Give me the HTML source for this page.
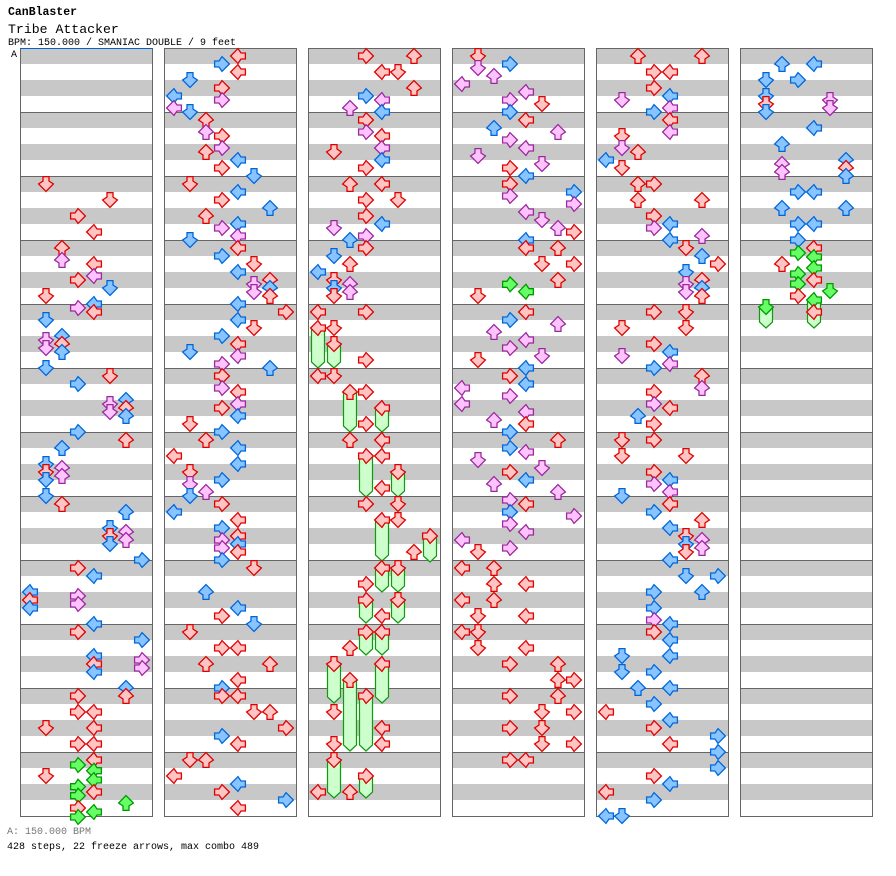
<!DOCTYPE html>
<html><head><meta charset="utf-8"><style>
html,body{margin:0;padding:0;background:#fff;}
svg{display:block;}
text{font-family:"Liberation Mono","DejaVu Sans Mono",monospace;}
</style></head><body>
<svg id="s" width="896" height="876" viewBox="0 0 896 876" xmlns="http://www.w3.org/2000/svg">
<text x="8" y="15" font-size="11.5" font-weight="bold" fill="#000">CanBlaster</text>
<text x="8" y="33" font-size="13.2" fill="#000">Tribe Attacker</text>
<text x="8" y="45" font-size="10" fill="#000">BPM: 150.000 / SMANIAC DOUBLE / 9 feet</text>
<text x="11" y="57" font-size="10" fill="#000">A</text>
<text x="7" y="834" font-size="10" fill="#777">A: 150.000 BPM</text>
<text x="7" y="849" font-size="10" fill="#000">428 steps, 22 freeze arrows, max combo 489</text>
<g id="g"></g>
</svg>
<script>
var cols=[20,164,308,452,596,740];
var data=[
"1:184 5:200 3:216 4:232 2:248 2:260 4:264 3:280 4:276 5:288 1:296 4:304 3:308 4:312 1:320 2:336 1:340 2:344 1:348 2:352 1:368 5:376 3:384 5:404 6:400 6:408 5:412 6:416 3:432 6:440 2:448 1:464 1:472 2:468 2:476 1:480 1:496 2:504 6:512 5:528 5:536 6:532 6:540 5:544 7:560 3:568 4:576 0:592 0:600 0:608 3:596 3:604 4:624 3:632 7:640 4:656 4:664 4:672 7:660 7:668 6:688 6:696 3:696 3:712 4:712 1:728 4:728 3:744 4:744 4:760 3:765g 1:776 4:770.7g 4:780g 3:786.7g 3:795.7g 4:792 6:803g 3:808 4:812g 3:817g",
"4:56 3:64 4:72 1:80 3:88 0:96 3:100 0:108 1:112 2:120 2:132 3:136 3:148 2:152 4:160 3:168 5:176 1:184 4:192 3:200 6:208 2:216 3:228 4:224 4:236 1:240 4:248 3:256 5:264 4:272 5:284 6:280 6:288 5:292 6:296 4:304 7:312 4:320 5:328 3:336 4:344 1:352 4:356 3:364 6:368 3:376 3:388 4:392 4:404 3:408 4:416 1:424 3:432 2:440 4:448 0:456 4:464 1:472 1:484 3:480 2:492 1:496 3:504 0:512 4:520 3:528 4:536 3:540 4:544 3:548 4:552 3:560 5:568 2:592 4:608 3:616 5:624 1:632 3:648 4:648 2:664 6:664 4:680 3:688 3:696 4:696 5:712 6:712 7:728 3:736 4:744 1:760 2:760 0:776 4:784 3:792 7:800 4:808",
"3:56 6:56 4:72 5:72 6:88 3:96 4:100 2:108 4:112 3:120 3:132 4:136 4:148 1:152 4:160 3:168 2:184 4:184 3:200 5:200 3:216 4:224 1:228 3:236 2:240 3:248 1:256 2:264 0:272 1:280 1:288 2:284 2:292 1:296 0:312 3:312 0:328 1:328 1:344 3:360 0:376 1:376 2:392 3:392 4:408 3:424 2:440 4:440 3:456 4:456 5:472 4:488 3:504 5:504 4:520 5:520 7:536 6:552 4:568 5:568 3:584 3:600 5:600 4:616 3:632 4:632 2:648 1:664 4:664 2:680 3:696 1:712 4:728 1:744 4:744 1:760 3:776 0:792 2:792",
"1:56 1:68 3:64 2:76 0:84 4:92 3:100 5:104 3:112 4:120 2:128 6:132 3:140 4:148 1:156 5:164 3:168 4:176 3:184 3:196 7:192 7:204 4:212 5:220 6:228 7:232 4:240 4:248 6:248 5:264 7:264 6:280 3:284.3g 4:291.7g 1:296 4:312 3:320 6:324 2:332 4:340 3:348 1:360 5:356 4:368 3:376 4:384 0:388 3:396 0:404 4:412 2:420 4:424 3:432 6:440 3:448 4:452 1:460 3:472 5:468 2:484 4:480 6:492 3:500 4:504 3:512 7:516 3:524 4:532 0:540 3:548 1:552 0:568 2:568 2:584 4:584 0:600 2:600 1:616 4:616 0:632 1:632 1:648 4:648 3:664 6:664 6:680 7:680 3:696 6:696 5:712 7:712 3:728 5:728 5:744 7:744 3:760 4:760",
"2:56 6:56 3:72 4:72 3:88 4:96 1:100 4:108 3:112 4:120 4:132 1:136 1:148 2:152 0:160 1:168 2:184 3:184 2:200 6:200 3:216 4:224 3:228 6:236 4:240 5:248 6:256 7:264 5:272 6:280 5:284 6:288 5:292 6:296 3:312 5:312 1:328 5:328 3:344 4:352 1:356 4:364 3:368 6:376 6:388 3:392 3:404 4:408 2:416 3:424 1:440 3:440 1:456 5:456 3:472 4:480 3:484 4:492 1:496 4:504 3:512 6:520 4:528 5:536 6:540 5:544 6:548 5:552 4:560 5:576 7:576 6:592 3:592 3:608 3:620 4:624 3:632 4:640 1:656 4:656 1:672 3:672 2:688 4:688 3:704 0:712 4:720 3:728 7:736 4:744 7:752 7:768 3:776 4:784 0:792 3:800 0:816 1:816",
"2:64 4:64 1:80 3:80 1:96 1:104 1:112 5:100 5:108 4:128 2:144 2:164 2:172 6:160 6:168 6:176 3:192 4:192 2:208 6:208 3:224 4:224 3:240 4:248 3:253g 4:257g 2:264 4:268g 3:274g 4:280 3:284g 5:291g 3:296 4:300g 1:307g 4:312"
];
var freezes=[[],[],[[0,328,368],[1,344,368],[2,392,432],[4,408,432],[3,456,497],[5,472,497],[4,520,561],[7,536,562],[4,568,592],[5,568,592],[3,600,623],[5,600,623],[3,632,655],[4,632,655],[1,664,703],[4,664,703],[2,680,751],[3,696,751],[1,760,798],[3,776,798]],[],[],[[1,307,328],[4,300,328]]];
var h='';
cols.forEach(function(cx,ci){
  h+='<rect x="'+cx+'" y="48" width="132" height="768" fill="#fff"/>';
  for(var y=48;y<816;y+=32) h+='<rect x="'+cx+'" y="'+y+'" width="132" height="16" fill="#c8c8c8"/>';
  for(var m=1;m<12;m++) h+='<line x1="'+cx+'" x2="'+(cx+132)+'" y1="'+(48+64*m+0.5)+'" y2="'+(48+64*m+0.5)+'" stroke="#666"/>';
  h+='<rect x="'+(cx+0.5)+'" y="48.5" width="132" height="768" fill="none" stroke="#666"/>';
  if(ci==0) h+='<line x1="20" x2="153" y1="48.5" y2="48.5" stroke="#0066cc"/>';
});
cols.forEach(function(cx,ci){
  freezes[ci].forEach(function(f){
    var x=cx+2+16*f[0], y1=f[1], y2=f[2];
    h+='<polygon points="'+(x+1.5)+','+y1+' '+(x+14.5)+','+y1+' '+(x+14.5)+','+(y2-6)+' '+(x+8)+','+y2+' '+(x+1.5)+','+(y2-6)+'" fill="#ccffcc" stroke="#119911" stroke-width="1.2"/>';
  });
});
var rot=[-90,180,0,90,-90,180,0,90];
var pts="8,0.6 15.4,8 11,11 11,15.4 5,15.4 5,11 0.6,8";
var C={r:['#ffc4c4','#e00000'],b:['#88c4ff','#0066dd'],p:['#ffc4ff','#9a2a9a'],g:['#66ff66','#009900']};
cols.forEach(function(cx,ci){
  var items=data[ci].split(' ').map(function(s){var g=s.indexOf('g')>=0;s=s.replace('g','');var p=s.split(':');return {l:+p[0],y:+p[1],g:g};});
  items.sort(function(a,b){return a.y-b.y;});
  items.forEach(function(it){
    var c;
    if(it.g) c='g'; else {var m=(((it.y-56)%16)+16)%16; c = m==0?'r':(m==8?'b':'p');}
    var x=cx+2+16*it.l, y=it.y-8;
    h+='<g transform="translate('+x+','+y+') rotate('+rot[it.l]+',8,8)"><polygon points="'+pts+'" fill="'+C[c][0]+'" stroke="'+C[c][1]+'" stroke-width="1.3" stroke-linejoin="miter"/></g>';
  });
});
document.getElementById('g').innerHTML=h;
</script>
</body></html>
